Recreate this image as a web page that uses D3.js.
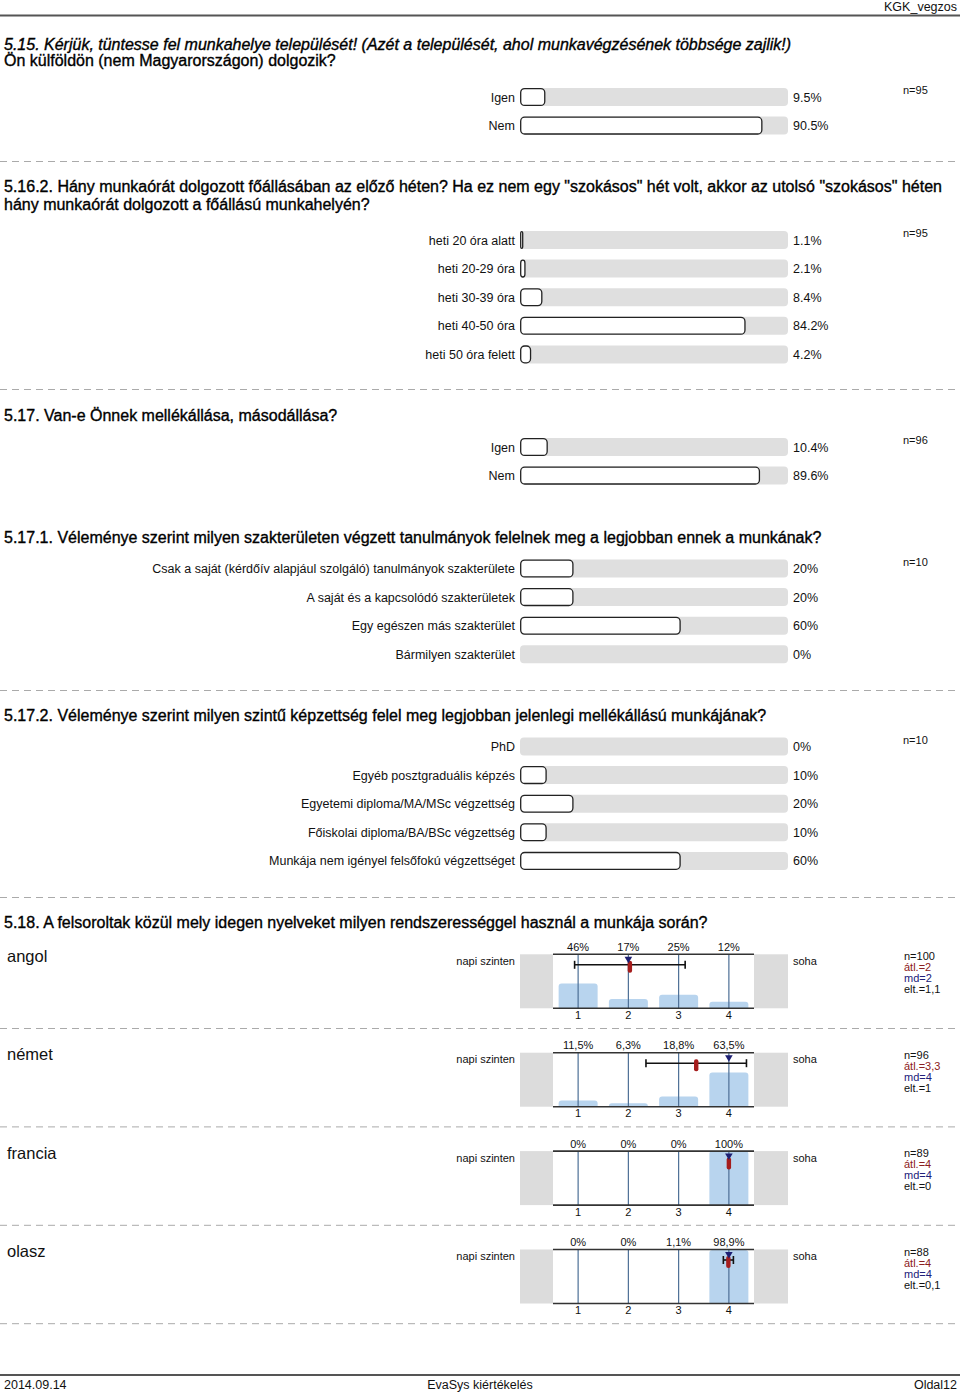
<!DOCTYPE html>
<html><head><meta charset="utf-8">
<script src="https://cdn.jsdelivr.net/npm/d3@7"></script>
<style>
html,body{margin:0;padding:0;background:#fff;}
svg{display:block;font-family:"Liberation Sans",Arial,sans-serif;}
</style></head>
<body>
<script>
// ---------- DATA ----------
const q515Cats = ["Igen", "Nem"];
const q515Vals = [9.5, 90.5];
const q515N = 95;

const q5162Cats = ["heti 20 óra alatt", "heti 20-29 óra", "heti 30-39 óra", "heti 40-50 óra", "heti 50 óra felett"];
const q5162Vals = [1.1, 2.1, 8.4, 84.2, 4.2];
const q5162N = 95;

const q517Cats = ["Igen", "Nem"];
const q517Vals = [10.4, 89.6];
const q517N = 96;

const q5171Cats = ["Csak a saját (kérdőív alapjául szolgáló) tanulmányok szakterülete", "A saját és a kapcsolódó szakterületek", "Egy egészen más szakterület", "Bármilyen szakterület"];
const q5171Vals = [20, 20, 60, 0];
const q5171N = 10;

const q5172Cats = ["PhD", "Egyéb posztgraduális képzés", "Egyetemi diploma/MA/MSc végzettség", "Főiskolai diploma/BA/BSc végzettség", "Munkája nem igényel felsőfokú végzettséget"];
const q5172Vals = [0, 10, 20, 10, 60];
const q5172N = 10;

const langs = ["angol", "német", "francia", "olasz"];
const scaleTicks = [1, 2, 3, 4];
const langPct = [
  [46, 17, 25, 12],
  [11.5, 6.3, 18.8, 63.5],
  [0, 0, 0, 100],
  [0, 0, 1.1, 98.9]
];
const langN = [100, 96, 89, 88];
const langMean = [2.03, 3.35, 4, 3.99];
const langMeanLabel = ["2", "3,3", "4", "4"];
const langMedian = [2, 4, 4, 4];
const langSd = [1.1, 1, 0, 0.1];
const langSdLabel = ["1,1", "1", "0", "0,1"];
const leftPole = "napi szinten";
const rightPole = "soha";

// ---------- DRAW ----------
const W = 960, H = 1395;
const svg = d3.select("body").append("svg").attr("width", W).attr("height", H);
svg.append("rect").attr("width", W).attr("height", H).attr("fill", "#fff");

// header / footer
svg.append("text").attr("x", 957).attr("y", 11).attr("text-anchor", "end")
  .attr("font-size", 12.5).attr("fill", "#111").text("KGK_vegzos");
svg.append("line").attr("x1", 0).attr("x2", 960).attr("y1", 15.5).attr("y2", 15.5)
  .attr("stroke", "#555").attr("stroke-width", 2);
svg.append("line").attr("x1", 0).attr("x2", 960).attr("y1", 1375).attr("y2", 1375)
  .attr("stroke", "#555").attr("stroke-width", 2);
svg.append("text").attr("x", 4).attr("y", 1389).attr("font-size", 12.5).attr("fill", "#111").text("2014.09.14");
svg.append("text").attr("x", 480).attr("y", 1389).attr("text-anchor", "middle").attr("font-size", 12.5).attr("fill", "#111").text("EvaSys kiértékelés");
svg.append("text").attr("x", 957).attr("y", 1389).attr("text-anchor", "end").attr("font-size", 12.5).attr("fill", "#111").text("Oldal12");

function sep(y) {
  svg.append("line").attr("x1", 0).attr("x2", 960).attr("y1", y).attr("y2", y)
    .attr("stroke", "#aaa").attr("stroke-width", 1).attr("stroke-dasharray", "7,5");
}
function title(lines, y, lh) {
  lines.forEach((l, i) => {
    svg.append("text").attr("x", 4).attr("y", y + i * (lh || 17.5)).attr("font-size", 16)
      .attr("fill", "#000").attr("stroke", "#000").attr("stroke-width", 0.35)
      .attr("font-style", l.italic ? "italic" : "normal").text(l.t);
  });
}

const xBar = d3.scaleLinear().domain([0, 100]).range([520, 788]);
function barSection(cats, vals, n, y0, fmt) {
  const yS = d3.scalePoint().domain(cats).range([y0, y0 + (cats.length - 1) * 28.6]);
  const g = svg.append("g");
  const rows = g.selectAll("g.row").data(cats.map((c, i) => ({c, v: vals[i]}))).join("g")
    .attr("transform", d => `translate(0,${yS(d.c)})`);
  rows.append("rect").attr("x", xBar(0)).attr("y", -9).attr("width", xBar(100) - xBar(0)).attr("height", 18)
    .attr("rx", 4).attr("fill", "#dfdfdf");
  rows.filter(d => d.v > 0).append("rect").attr("x", xBar(0) + 0.7).attr("y", -8.4)
    .attr("width", d => Math.max(2, xBar(d.v) - xBar(0) - 1.4)).attr("height", 16.8)
    .attr("rx", d => Math.min(4, (xBar(d.v) - xBar(0)) / 2)).attr("fill", "#fff").attr("stroke", "#222").attr("stroke-width", 1.3);
  rows.append("text").attr("x", 515).attr("y", 4.5).attr("text-anchor", "end").attr("font-size", 12.5)
    .attr("fill", "#111").text(d => d.c);
  rows.append("text").attr("x", 793).attr("y", 4.5).attr("font-size", 12.5)
    .attr("fill", "#111").text(d => fmt(d.v) + "%");
  g.append("text").attr("x", 903).attr("y", y0 - 3).attr("font-size", 11).attr("fill", "#111").text("n=" + n);
}

// 5.15
title([{t: "5.15. Kérjük, tüntesse fel munkahelye települését! (Azét a települését, ahol munkavégzésének többsége zajlik!)", italic: true},
       {t: "Ön külföldön (nem Magyarországon) dolgozik?"}], 50, 16.3);
barSection(q515Cats, q515Vals, q515N, 97, d3.format(".1f"));
sep(161.5);

// 5.16.2
title([{t: "5.16.2. Hány munkaórát dolgozott főállásában az előző héten? Ha ez nem egy \"szokásos\" hét volt, akkor az utolsó \"szokásos\" héten"},
       {t: "hány munkaórát dolgozott a főállású munkahelyén?"}], 192, 17.8);
barSection(q5162Cats, q5162Vals, q5162N, 240, d3.format(".1f"));
sep(389.5);

// 5.17
title([{t: "5.17. Van-e Önnek mellékállása, másodállása?"}], 421);
barSection(q517Cats, q517Vals, q517N, 447, d3.format(".1f"));

// 5.17.1
title([{t: "5.17.1. Véleménye szerint milyen szakterületen végzett tanulmányok felelnek meg a legjobban ennek a munkának?"}], 543);
barSection(q5171Cats, q5171Vals, q5171N, 568.5, d3.format(".0f"));
sep(690.5);

// 5.17.2
title([{t: "5.17.2. Véleménye szerint milyen szintű képzettség felel meg legjobban jelenlegi mellékállású munkájának?"}], 721);
barSection(q5172Cats, q5172Vals, q5172N, 746.5, d3.format(".0f"));
sep(897.5);

// 5.18
title([{t: "5.18. A felsoroltak közül mely idegen nyelveket milyen rendszerességgel használ a munkája során?"}], 928);

const xL = d3.scaleLinear().domain([0.5, 4.5]).range([553, 754]);
const hPlot = 54;
const yPct = d3.scaleLinear().domain([0, 100]).range([0, hPlot]);
const commaFmt = v => String(+v.toFixed(1)).replace(".", ",");

langs.forEach((lang, i) => {
  const y0 = 954.3 + i * 98.4;
  const g = svg.append("g").attr("transform", `translate(0,${y0})`);
  g.append("text").attr("x", 7).attr("y", 7.5).attr("font-size", 16.5).attr("fill", "#111").text(lang);
  g.append("text").attr("x", 515).attr("y", 10.5).attr("text-anchor", "end").attr("font-size", 11).attr("fill", "#111").text(leftPole);
  g.append("text").attr("x", 793).attr("y", 10.5).attr("font-size", 11).attr("fill", "#111").text(rightPole);
  // side boxes
  g.append("rect").attr("x", 520).attr("y", 0).attr("width", xL(0.5) - 520).attr("height", hPlot).attr("fill", "#dcdcdc");
  g.append("rect").attr("x", xL(4.5)).attr("y", 0).attr("width", 788 - xL(4.5)).attr("height", hPlot).attr("fill", "#dcdcdc");
  // bars
  const bw = 39;
  g.selectAll("path.bar").data(scaleTicks.map((t, k) => ({t, v: langPct[i][k]})).filter(d => d.v > 0)).join("path")
    .attr("fill", "#b8d4ee")
    .attr("d", d => {
      const x = xL(d.t) - bw / 2, h = yPct(d.v), y = hPlot - h, r = Math.min(3, h);
      return `M${x},${hPlot}V${y + r}Q${x},${y} ${x + r},${y}H${x + bw - r}Q${x + bw},${y} ${x + bw},${y + r}V${hPlot}Z`;
    });
  // column lines
  g.selectAll("line.col").data(scaleTicks).join("line")
    .attr("x1", d => xL(d)).attr("x2", d => xL(d)).attr("y1", 0).attr("y2", hPlot)
    .attr("stroke", "#4d6f96").attr("stroke-width", 1.2);
  // top / bottom lines
  [0, hPlot].forEach(yy => g.append("line").attr("x1", xL(0.5)).attr("x2", xL(4.5)).attr("y1", yy).attr("y2", yy)
    .attr("stroke", "#333").attr("stroke-width", 1.6));
  // pct labels
  g.selectAll("text.pct").data(scaleTicks).join("text")
    .attr("x", d => xL(d)).attr("y", -3.5).attr("text-anchor", "middle").attr("font-size", 11).attr("fill", "#111")
    .text((d, k) => commaFmt(langPct[i][k]) + "%");
  // axis numbers
  g.selectAll("text.ax").data(scaleTicks).join("text")
    .attr("x", d => xL(d)).attr("y", 64.5).attr("text-anchor", "middle").attr("font-size", 11).attr("fill", "#111")
    .text(d => d);
  // error bar
  const m = langMean[i], s = langSd[i], ey = 10.5;
  if (s > 0) {
    g.append("line").attr("x1", xL(m - s)).attr("x2", xL(m + s)).attr("y1", ey).attr("y2", ey).attr("stroke", "#111").attr("stroke-width", 1.6);
    [m - s, m + s].forEach(v => g.append("line").attr("x1", xL(v)).attr("x2", xL(v)).attr("y1", ey - 4).attr("y2", ey + 4)
      .attr("stroke", "#111").attr("stroke-width", 1.6));
  }
  // mean marker
  g.append("rect").attr("x", xL(m) - 2.2).attr("y", 6.5).attr("width", 4.4).attr("height", 12).attr("rx", 2).attr("fill", "#a51d1d");
  // median triangle
  const mx = xL(langMedian[i]);
  g.append("path").attr("d", `M${mx - 3.8},2.5H${mx + 3.8}L${mx},9Z`).attr("fill", "#1d1f73");
  // stats
  const st = [["n=" + langN[i], "#111"], ["átl.=" + langMeanLabel[i], "#8b2020"], ["md=" + langMedian[i], "#20207a"], ["elt.=" + langSdLabel[i], "#111"]];
  st.forEach((s2, k) => g.append("text").attr("x", 904).attr("y", 6 + k * 11).attr("font-size", 11).attr("fill", s2[1]).text(s2[0]));
  sep(y0 + 74.2);
});
</script>
</body></html>
